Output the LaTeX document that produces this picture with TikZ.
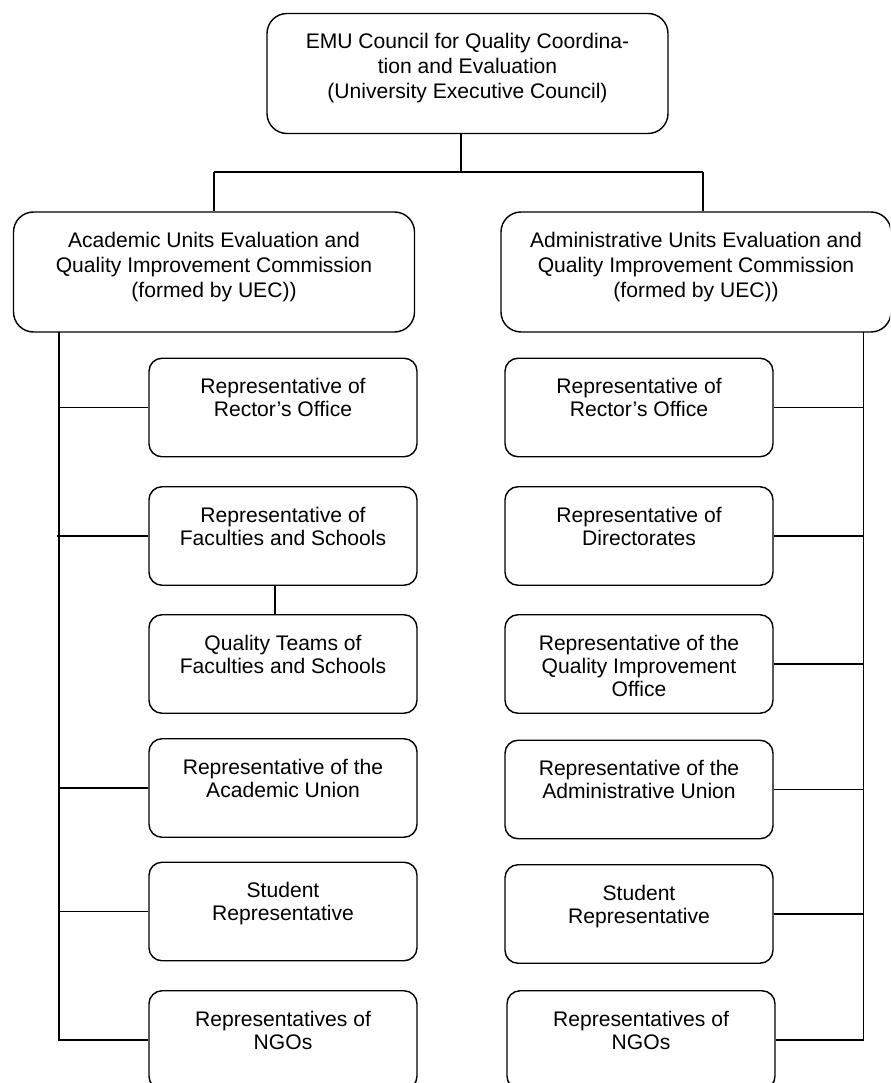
\documentclass[tikz,border=0pt]{standalone}
\usepackage{fontspec}
\setmainfont{Liberation Sans}
\usetikzlibrary{positioning}

\begin{document}
\begin{tikzpicture}[line width=0.8pt,
  bigbox/.style={rectangle, rounded corners=0.4cm, draw, minimum width=8.02cm, minimum height=2.4cm},
  repbox/.style={rectangle, rounded corners=0.26cm, draw, minimum width=5.36cm, minimum height=1.97cm},
  bigtext/.style={anchor=north, inner sep=0pt, align=center, font=\fontsize{12}{14.2}\selectfont},
  reptext/.style={anchor=north, inner sep=0pt, align=center, font=\fontsize{12}{13.2}\selectfont}]
\clip (0,0) rectangle (17.8,-21.66);

% Council and the two commissions
\node[bigbox] (council) at (9.35,-1.47) {};
\node[bigbox] (acad) at (4.28,-5.44) {};
\node[bigbox, minimum width=7.8cm] (admin) at (13.92,-5.44) {};

\node[bigtext] (council-t) at ([yshift=-0.4cm]council.north) {EMU Council for Quality Coordina-\\tion and Evaluation\\(University Executive Council)};
\node[bigtext] (acad-t) at ([yshift=-0.4cm]acad.north) {Academic Units Evaluation and\\Quality Improvement Commission\\(formed by UEC))};
\node[bigtext] (admin-t) at ([yshift=-0.4cm]admin.north) {Administrative Units Evaluation and\\Quality Improvement Commission\\(formed by UEC))};

% Academic side
\node[repbox] (rep-l1) at (5.66,-8.15) {};
\node[repbox] (rep-l2) at (5.66,-10.72) {};
\node[repbox] (rep-l3) at (5.66,-13.28) {};
\node[repbox] (rep-l4) at (5.66,-15.76) {};
\node[repbox] (rep-l5) at (5.66,-18.23) {};
\node[repbox] (rep-l6) at (5.66,-20.80) {};

\node[reptext] (rep-l1-t) at ([yshift=-0.4cm]rep-l1.north) {Representative of\\Rector’s Office};
\node[reptext] (rep-l2-t) at ([yshift=-0.4cm]rep-l2.north) {Representative of\\Faculties and Schools};
\node[reptext] (rep-l3-t) at ([yshift=-0.4cm]rep-l3.north) {Quality Teams of\\Faculties and Schools};
\node[reptext] (rep-l4-t) at ([yshift=-0.4cm]rep-l4.north) {Representative of the\\Academic Union};
\node[reptext] (rep-l5-t) at ([yshift=-0.4cm]rep-l5.north) {Student\\Representative};
\node[reptext] (rep-l6-t) at ([yshift=-0.4cm]rep-l6.north) {Representatives of\\NGOs};

% Administrative side
\node[repbox] (rep-r1) at (12.78,-8.15) {};
\node[repbox] (rep-r2) at (12.78,-10.72) {};
\node[repbox] (rep-r3) at (12.78,-13.28) {};
\node[repbox] (rep-r4) at (12.78,-15.79) {};
\node[repbox] (rep-r5) at (12.78,-18.28) {};
\node[repbox] (rep-r6) at (12.82,-20.80) {};

\node[reptext] (rep-r1-t) at ([yshift=-0.4cm]rep-r1.north) {Representative of\\Rector’s Office};
\node[reptext] (rep-r2-t) at ([yshift=-0.4cm]rep-r2.north) {Representative of\\Directorates};
\node[reptext] (rep-r3-t) at ([yshift=-0.4cm]rep-r3.north) {Representative of the\\Quality Improvement\\Office};
\node[reptext] (rep-r4-t) at ([yshift=-0.4cm]rep-r4.north) {Representative of the\\Administrative Union};
\node[reptext] (rep-r5-t) at ([yshift=-0.4cm]rep-r5.north) {Student\\Representative};
\node[reptext] (rep-r6-t) at ([yshift=-0.4cm]rep-r6.north) {Representatives of\\NGOs};

% Lines from the council
\coordinate (split) at (9.22,-3.44);
\coordinate (barL) at (4.28,-3.44);
\coordinate (barR) at (14.06,-3.44);
\draw (council.south -| split) -- (split);
\draw (barL) -- (barR);
\draw (barL) -- (acad.north);
\draw (barR) -- (barR |- admin.north);

% Academic trunk
\coordinate (ltrunk) at (1.18,-6.64);
\draw (ltrunk) |- (rep-l6.west);
\draw (rep-l1.west) -- (rep-l1.west -| ltrunk);
\draw (rep-l2.west) -- ([xshift=-0.04cm]rep-l2.west -| ltrunk);
\draw (rep-l4.west) -- (rep-l4.west -| ltrunk);
\draw (rep-l5.west) -- (rep-l5.west -| ltrunk);
\draw ([xshift=-0.16cm]rep-l2.south) -- ([xshift=-0.16cm]rep-l3.north);

% Administrative trunk
\coordinate (rtrunk) at (17.27,-6.64);
\draw (rtrunk) |- (rep-r6.east);
\draw (rep-r1.east) -- (rep-r1.east -| rtrunk);
\draw (rep-r2.east) -- (rep-r2.east -| rtrunk);
\draw (rep-r3.east) -- (rep-r3.east -| rtrunk);
\draw (rep-r4.east) -- (rep-r4.east -| rtrunk);
\draw (rep-r5.east) -- (rep-r5.east -| rtrunk);
\end{tikzpicture}
\end{document}
